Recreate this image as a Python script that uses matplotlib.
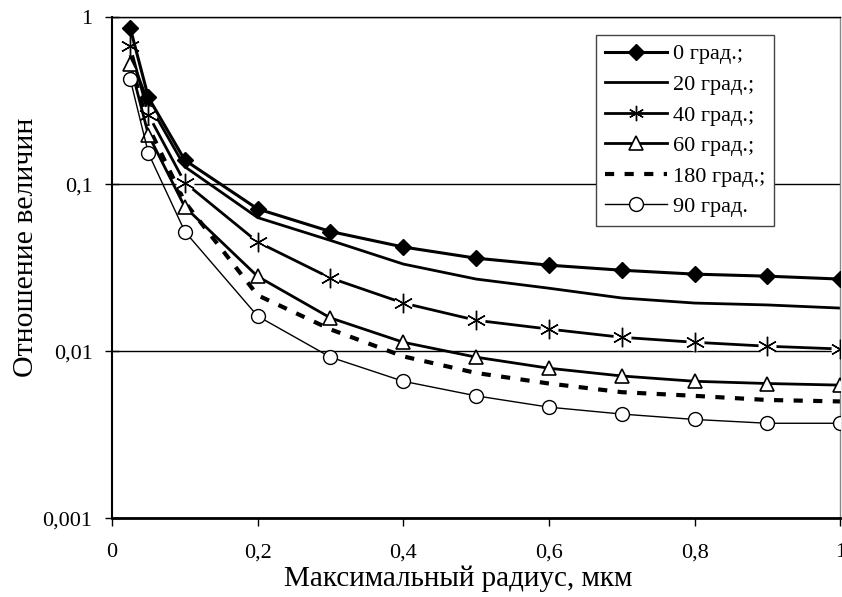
import matplotlib
matplotlib.use("Agg")
import matplotlib.pyplot as plt
from matplotlib.lines import Line2D
import numpy as np

plt.rcParams['font.family'] = ['Liberation Serif', 'DejaVu Serif']

x = [0.025, 0.05, 0.1, 0.2, 0.3, 0.4, 0.5, 0.6, 0.7, 0.8, 0.9, 1.0]
labels = ["0 град.;", "20 град.;", "40 град.;", "60 град.;", "180 град.;", "90 град."]
y0 = [0.86, 0.33, 0.139, 0.071, 0.052, 0.042, 0.036, 0.0327, 0.0305, 0.0289, 0.0281, 0.027]
y20 = [0.59, 0.306, 0.127, 0.063, 0.046, 0.0332, 0.027, 0.0238, 0.0208, 0.0194, 0.0189, 0.0181]
y40 = [0.67, 0.26, 0.102, 0.045, 0.0274, 0.0194, 0.0153, 0.01355, 0.0121, 0.0113, 0.0107, 0.0103]
y60 = [0.52, 0.197, 0.073, 0.0280, 0.0158, 0.0113, 0.0092, 0.0079, 0.0071, 0.0066, 0.0064, 0.00626]
y180 = [0.55, 0.22, 0.078, 0.0216, 0.0135, 0.0093, 0.0074, 0.0064, 0.00568, 0.0054, 0.0051, 0.0050]
y90 = [0.425, 0.153, 0.052, 0.0162, 0.0092, 0.0066, 0.0054, 0.00462, 0.0042, 0.0039, 0.0037, 0.0037]

xticks = [0, 0.2, 0.4, 0.6, 0.8, 1.0]
xticklabels = ["0", "0,2", "0,4", "0,6", "0,8", "1"]
yticks = [0.001, 0.01, 0.1, 1]
yticklabels = ["0,001", "0,01", "0,1", "1"]

fig = plt.figure(figsize=(8.42, 5.97), dpi=100)
ax = fig.add_axes([0.133, 0.132, 0.865, 0.8395])

# white halo under asterisk markers (line breaks around markers)
ax.plot(x, y40, linestyle='none', marker='o', markersize=13, markerfacecolor='white',
        markeredgecolor='none', zorder=3)

h0, = ax.plot(x, y0, color='black', lw=2.2, marker='D', markersize=8.5,
              markerfacecolor='black', markeredgecolor='black', zorder=4, label=labels[0])
h20, = ax.plot(x, y20, color='black', lw=2.0, zorder=2, label=labels[1])
ax.plot(x, y40, color='black', lw=2.0, zorder=2)
ax.plot(x, y40, color='black', marker=(6, 2, 0), markersize=14,
        markeredgewidth=1.0, linestyle='none', zorder=4)
h60, = ax.plot(x, y60, color='black', lw=2.0, marker='^', markersize=10,
               markerfacecolor='white', markeredgecolor='black', markeredgewidth=1.2,
               zorder=4, label=labels[3])
h180, = ax.plot(x, y180, color='black', lw=3.0, linestyle=(0, (2.2, 2.5)), zorder=2,
                label=labels[4])
h90, = ax.plot(x, y90, color='black', lw=1.0, marker='o', markersize=10,
               markerfacecolor='white', markeredgecolor='black', markeredgewidth=1.0,
               zorder=4, label=labels[5])

ax.set_yscale('log')
ax.set_xlim(0, 1)
ax.set_ylim(0.001, 1)
ax.set_xticks(xticks)
ax.set_xticklabels(xticklabels)
ax.set_yticks(yticks)
ax.set_yticklabels(yticklabels)
ax.yaxis.set_minor_locator(matplotlib.ticker.NullLocator())
ax.tick_params(axis='both', labelsize=16, width=1, color='black')
ax.tick_params(axis='x', direction='out', length=6, pad=12)
ax.tick_params(axis='y', direction='inout', length=10, pad=9)
ax.grid(True, axis='y', which='major', color='black', lw=1.0)
for s in ax.spines.values():
    s.set_color('black')
    s.set_linewidth(1.0)
ax.spines['bottom'].set_linewidth(2.0)
ax.spines['left'].set_linewidth(1.5)
ax.spines['right'].set_color('#888888')

ax.set_xlabel("Максимальный радиус, мкм", fontsize=21)
ax.xaxis.set_label_coords(0.475, -0.095)
ax.set_ylabel("Отношение величин", fontsize=21.5)
ax.yaxis.set_label_coords(-0.1, 0.54)

leg_h40 = Line2D([], [], color='black', lw=2.0, marker=(6, 2, 0), markersize=11,
                 markeredgewidth=1.0)
leg = ax.legend([h0, h20, leg_h40, h60, h180, h90], labels,
                loc='upper left', bbox_to_anchor=(596/842, 1 - 35/597),
                bbox_transform=fig.transFigure, fontsize=16, frameon=True,
                fancybox=False, edgecolor='#444444', framealpha=1,
                handlelength=2.8, handletextpad=0.25, labelspacing=0.45,
                borderpad=0.4, borderaxespad=0)
leg.get_frame().set_linewidth(1.0)

fig.savefig("out.png", dpi=100)
